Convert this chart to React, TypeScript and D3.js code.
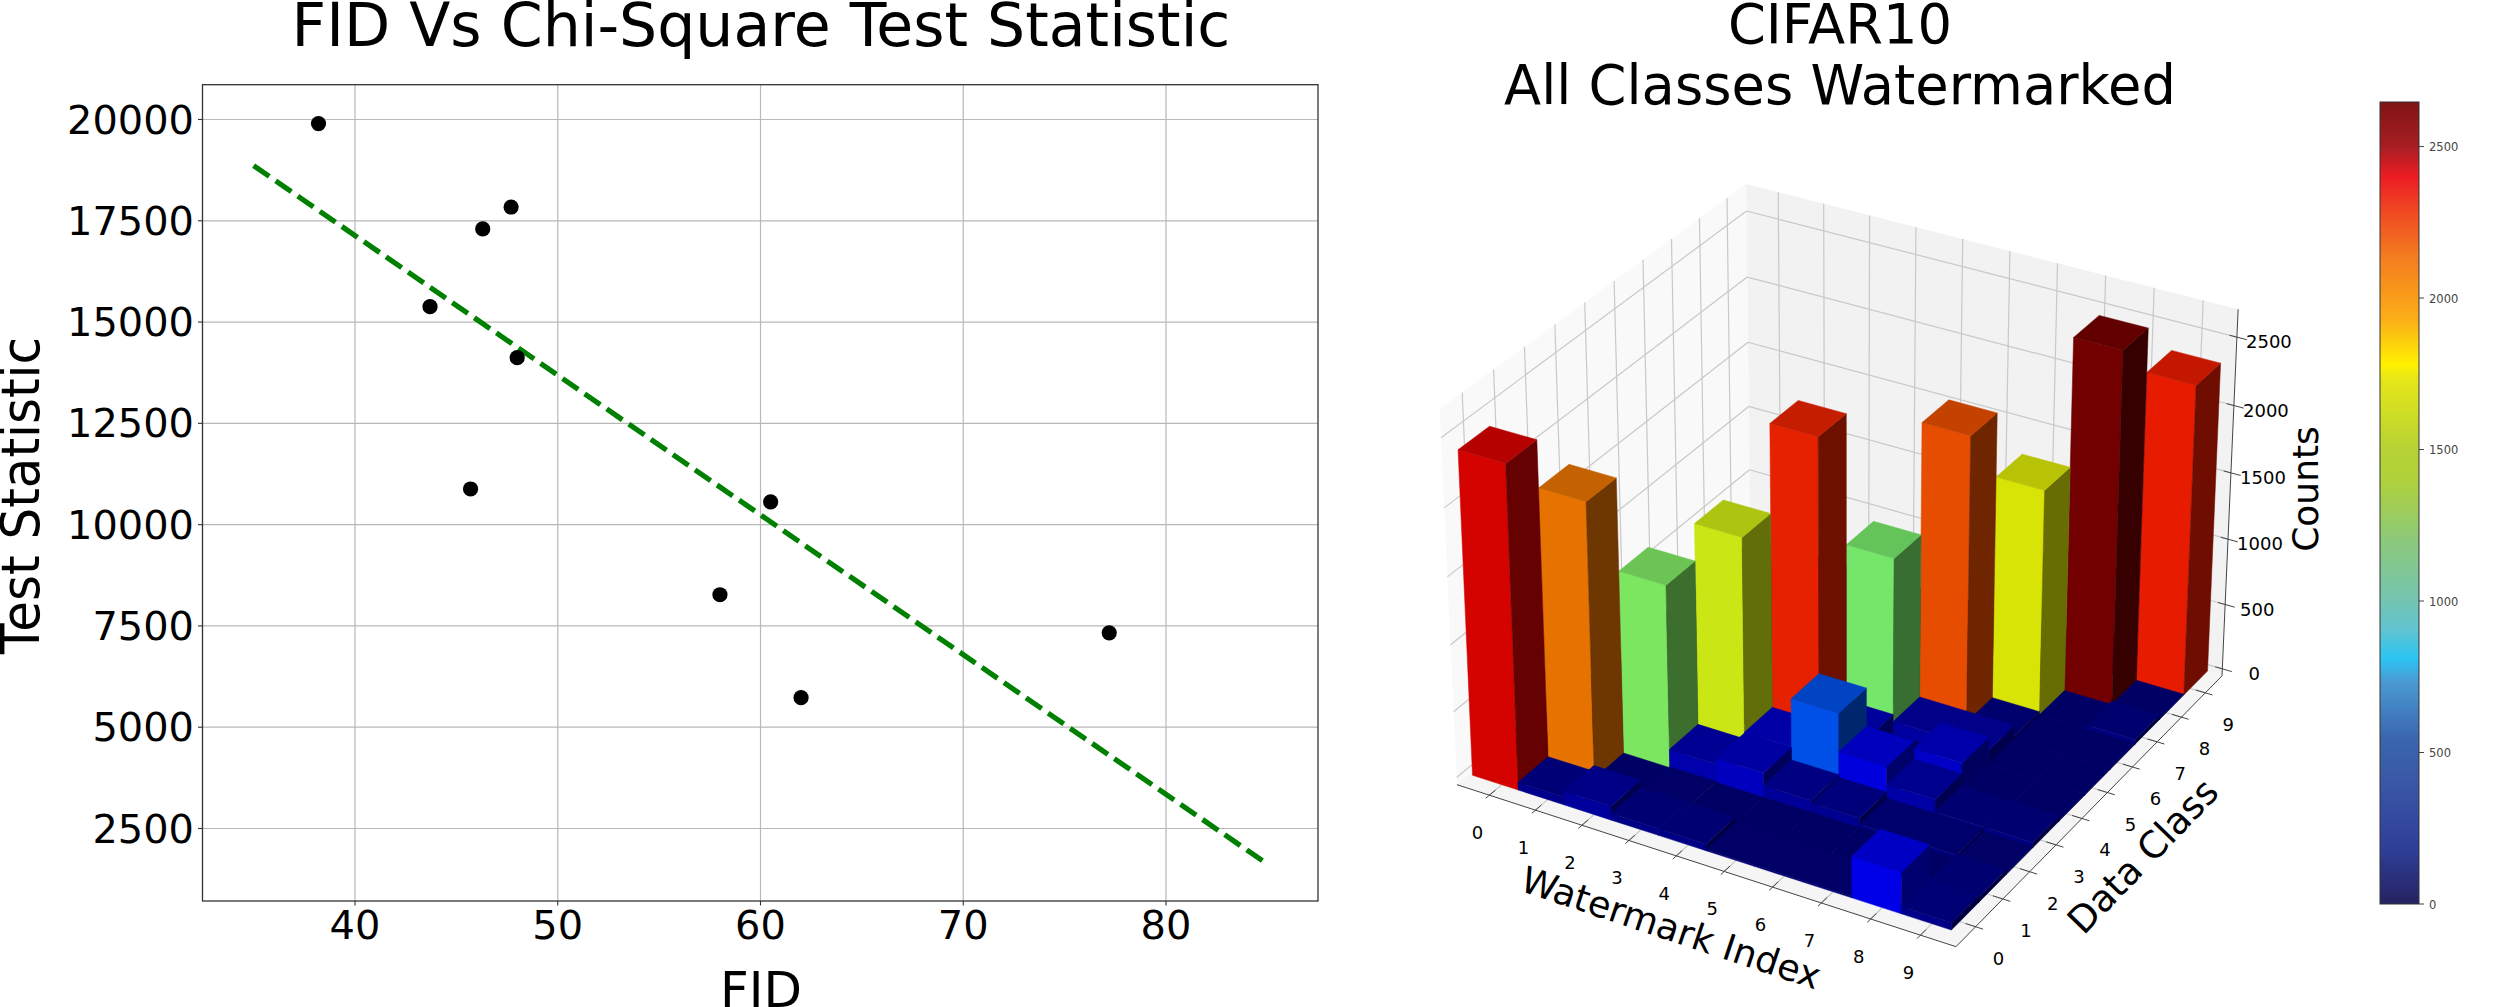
import React from "react";
import * as d3 from "d3";

const FONT = "'DejaVu Sans', sans-serif";

// ---- scatter data
const fid = [38.2, 43.7, 45.7, 46.3, 47.7, 48.0, 58.0, 60.5, 62.0, 77.2];
const testStat = [19900, 15380, 10880, 17300, 17840, 14120, 8270, 10560, 5730, 7330];
const fitX = [35, 85];
const fitY = [18860, 1620];
const xTicks = [40, 50, 60, 70, 80];
const yTicks = [2500, 5000, 7500, 10000, 12500, 15000, 17500, 20000];

// ---- bar data: counts per watermark index (column) for each data class (row)
const class0 = [2400, 60, 105, 50, 50, 10, 10, 10, 310, 55];
const class1 = [8, 2055, 6, 12, 6, 6, 6, 6, 6, 40];
const class2 = [8, 6, 1375, 145, 190, 95, 75, 30, 30, 8];
const class3 = [6, 6, 40, 1650, 195, 560, 270, 133, 40, 40];
const class4 = [6, 6, 6, 6, 2305, 170, 20, 215, 6, 6];
const class5 = [6, 6, 6, 6, 20, 1345, 115, 115, 6, 6];
const class6 = [6, 6, 6, 6, 6, 6, 2170, 30, 6, 6];
const class7 = [6, 6, 6, 6, 6, 6, 6, 1700, 6, 35];
const class8 = [6, 6, 6, 6, 6, 6, 6, 6, 2647, 6];
const class9 = [6, 6, 6, 6, 6, 6, 6, 6, 40, 2325];
const matrix = [class0, class1, class2, class3, class4, class5, class6, class7, class8, class9];
const gridIdx = [0, 1, 2, 3, 4, 5, 6, 7, 8, 9];
const zTicks = [0, 500, 1000, 1500, 2000, 2500];
const cbTicks = [0, 500, 1000, 1500, 2000, 2500];
const cbMax = 2647;

const cbStopVals = [0, 184, 368, 551, 735, 810, 908, 1010, 1203, 1402, 1500, 1730, 1780, 1930, 2140, 2310, 2400, 2500, 2647];
const cbStopCols = ["#262262", "#2e3f98", "#3953a4", "#3a67ae", "#4a9ad4", "#2bc4f3", "#62c4d0", "#74c5ae", "#8cc97a", "#b0d13a", "#b5d334", "#e6e619", "#fff200", "#fbae17", "#f47b20", "#ef4023", "#ed1c24", "#a81e22", "#7f1416"];

// ---- 3D projection (elev 30, azim -60, box 4:4:3)
const xlim = [-0.708, 9.708];
const ylim = [-0.708, 9.708];
const zlim = [-55, 2702];
const elev = (30 * Math.PI) / 180;
const azim = (-60 * Math.PI) / 180;
const box = [1.143, 1.143, 0.857];
const center = box.map((b) => b / 2);
const eye = [
  center[0] + 10 * Math.cos(elev) * Math.cos(azim),
  center[1] + 10 * Math.cos(elev) * Math.sin(azim),
  center[2] + 10 * Math.sin(elev),
];
const n = [0, 1, 2].map((i) => (eye[i] - center[i]) / 10);
const cross = (a: number[], b: number[]) => [a[1] * b[2] - a[2] * b[1], a[2] * b[0] - a[0] * b[2], a[0] * b[1] - a[1] * b[0]];
const norm = (a: number[]) => { const l = Math.hypot(a[0], a[1], a[2]); return a.map((v) => v / l); };
const u = norm(cross([0, 0, 1], n));
const v = norm(cross(n, u));
const dot = (a: number[], b: number[]) => a[0] * b[0] + a[1] * b[1] + a[2] * b[2];
const wx = d3.scaleLinear().domain(xlim).range([0, box[0]]);
const wy = d3.scaleLinear().domain(ylim).range([0, box[1]]);
const wz = d3.scaleLinear().domain(zlim).range([0, box[2]]);
function raw(x: number, y: number, z: number): [number, number] {
  const d = [wx(x) - eye[0], wy(y) - eye[1], wz(z) - eye[2]];
  const w = -dot(n, d);
  return [dot(u, d) / w, dot(v, d) / w];
}
const sx = d3.scaleLinear().domain([raw(xlim[0], ylim[0], zlim[0])[0], raw(xlim[1], ylim[1], zlim[0])[0]]).range([1457, 2222]);
const sy = d3.scaleLinear().domain([raw(xlim[1], ylim[0], zlim[0])[1], raw(xlim[0], ylim[1], zlim[1])[1]]).range([946.7, 184]);
function P(x: number, y: number, z: number): [number, number] {
  const r = raw(x, y, z);
  return [sx(r[0]), sy(r[1])];
}
const poly = (pts: [number, number, number][]) => d3.line()(pts.map((p) => P(p[0], p[1], p[2])))! + "Z";

const jr = d3.scaleLinear().domain([0, 0.35, 0.66, 0.89, 1]).range([0, 0, 1, 1, 0.5]).clamp(true);
const jg = d3.scaleLinear().domain([0, 0.125, 0.375, 0.64, 0.91, 1]).range([0, 0, 1, 1, 0, 0]).clamp(true);
const jb = d3.scaleLinear().domain([0, 0.11, 0.34, 0.65, 1]).range([0.5, 1, 1, 0, 0]).clamp(true);
function jet(val: number, f: number) {
  const t = val / cbMax;
  return d3.rgb(jr(t) * 255 * f, jg(t) * 255 * f, jb(t) * 255 * f).formatRgb();
}
const FRONT = 0.9, TOP = 0.77, SIDE = 0.43;

// text helper: sq stretches horizontally like the resized source image
function T({ x, y, s, size, anchor = "middle", rot = 0, sq = 1, fill = "#000" }: any) {
  return (
    <text transform={`translate(${x},${y}) scale(${sq},1) rotate(${rot})`} fontFamily={FONT} fontSize={size} textAnchor={anchor} fill={fill}>
      {s}
    </text>
  );
}

export default function App() {
  const L = 202.5, R = 1318, Tp = 84.7, B = 901;
  const x = d3.scaleLinear().domain([40, 80]).range([355, 1166]);
  const y = d3.scaleLinear().domain([2500, 20000]).range([828.5, 119.5]);

  const bars: { i: number; j: number; val: number }[] = [];
  gridIdx.forEach((j) => gridIdx.forEach((i) => bars.push({ i, j, val: matrix[j][i] })));
  bars.sort((a, b) => a.i - a.j - (b.i - b.j) || b.j - a.j);

  const [x0, x1] = xlim, [y0, y1] = ylim, [z0, z1] = zlim;
  const gridCol = "#c8c8c8";
  const seg = (a: [number, number, number], b: [number, number, number], stroke: string, w: number, key: string) => {
    const p = P(a[0], a[1], a[2]), q = P(b[0], b[1], b[2]);
    return <line key={key} x1={p[0]} y1={p[1]} x2={q[0]} y2={q[1]} stroke={stroke} strokeWidth={w} />;
  };

  const cbY = d3.scaleLinear().domain([0, cbMax]).range([904, 102]);

  return (
    <svg width={2500} height={1007} style={{ position: "absolute", left: 0, top: 0, display: "block", background: "#fff" }}>
      {/* left panel */}
      <T x={761} y={46} s="FID Vs Chi-Square Test Statistic" size={61} sq={0.985} />
      {xTicks.map((t) => <line key={"gx" + t} x1={x(t)} x2={x(t)} y1={Tp} y2={B} stroke="#b8b8b8" strokeWidth={1.2} />)}
      {yTicks.map((t) => <line key={"gy" + t} x1={L} x2={R} y1={y(t)} y2={y(t)} stroke="#b8b8b8" strokeWidth={1.2} />)}
      {xTicks.map((t) => <line key={"tx" + t} x1={x(t)} x2={x(t)} y1={B} y2={B + 4.5} stroke="#333" strokeWidth={1.1} />)}
      {yTicks.map((t) => <line key={"ty" + t} x1={L - 4.5} x2={L} y1={y(t)} y2={y(t)} stroke="#333" strokeWidth={1.1} />)}
      <rect x={L} y={Tp} width={R - L} height={B - Tp} fill="none" stroke="#333" strokeWidth={1.3} />
      <path d={d3.line()(fitX.map((fx, i) => [x(fx), y(fitY[i])] as [number, number]))!} fill="none" stroke="#008000" strokeWidth={5.2} strokeDasharray="19,7.8" />
      {fid.map((f, i) => <circle key={"p" + i} cx={x(f)} cy={y(testStat[i])} r={7.6} fill="#000" />)}
      {xTicks.map((t) => <T key={"xl" + t} x={x(t)} y={939} s={String(t)} size={39.5} sq={1.01} />)}
      {yTicks.map((t) => <T key={"yl" + t} x={194} y={y(t) + 14} s={String(t)} size={39.5} sq={1.01} anchor="end" />)}
      <T x={761} y={1007} s="FID" size={50} />
      <T x={39} y={495.5} s="Test Statistic" size={50} sq={1.07} rot={-90} />

      {/* right panel */}
      <T x={1840} y={43} s="CIFAR10" size={56} sq={0.97} />
      <T x={1840} y={104} s="All Classes Watermarked" size={56} sq={0.97} />

      <path d={poly([[x0, y0, z0], [x0, y1, z0], [x0, y1, z1], [x0, y0, z1]])} fill="#f9f9f9" />
      <path d={poly([[x0, y1, z0], [x1, y1, z0], [x1, y1, z1], [x0, y1, z1]])} fill="#f2f2f2" />
      <path d={poly([[x0, y0, z0], [x1, y0, z0], [x1, y1, z0], [x0, y1, z0]])} fill="#f5f5f5" />
      {gridIdx.map((t) => seg([t, y1, z0], [t, y1, z1], gridCol, 1.2, "g1" + t))}
      {gridIdx.map((t) => seg([x0, t, z0], [x0, t, z1], gridCol, 1.2, "g2" + t))}
      {gridIdx.map((t) => seg([t, y0, z0], [t, y1, z0], gridCol, 1.2, "g3" + t))}
      {gridIdx.map((t) => seg([x0, t, z0], [x1, t, z0], gridCol, 1.2, "g4" + t))}
      {zTicks.map((t) => seg([x0, y0, t], [x0, y1, t], gridCol, 1.2, "g5" + t))}
      {zTicks.map((t) => seg([x0, y1, t], [x1, y1, t], gridCol, 1.2, "g6" + t))}
      {seg([x0, y0, z0], [x1, y0, z0], "#444", 1, "a1")}
      {seg([x1, y0, z0], [x1, y1, z0], "#444", 1, "a2")}
      {seg([x1, y1, z0], [x1, y1, z1], "#444", 1, "a3")}
      {gridIdx.map((t) => seg([t, y0 - 0.12, z0], [t, y0 + 0.2, z0], "#444", 1, "t1" + t))}
      {gridIdx.map((t) => seg([x1 - 0.2, t, z0], [x1 + 0.15, t, z0], "#444", 1, "t2" + t))}
      {zTicks.map((t) => seg([x1 - 0.15, y1, t], [x1 + 0.2, y1, t], "#444", 1, "t3" + t))}

      {bars.map((b) => {
        const ax = b.i - 0.5, bx = b.i + 0.5, ay = b.j - 0.5, by = b.j + 0.5, h = b.val;
        const c1 = jet(h, FRONT), c2 = jet(h, SIDE), c3 = jet(h, TOP);
        return (
          <g key={`b${b.i}-${b.j}`} strokeWidth={0.5}>
            <path d={poly([[ax, ay, 0], [bx, ay, 0], [bx, ay, h], [ax, ay, h]])} fill={c1} stroke={c1} />
            <path d={poly([[bx, ay, 0], [bx, by, 0], [bx, by, h], [bx, ay, h]])} fill={c2} stroke={c2} />
            <path d={poly([[ax, ay, h], [bx, ay, h], [bx, by, h], [ax, by, h]])} fill={c3} stroke={c3} />
          </g>
        );
      })}

      {gridIdx.map((t) => { const p = P(t, y0, z0); return <T key={"xt" + t} x={p[0] - 12} y={p[1] + 44} s={String(t)} size={18} />; })}
      {gridIdx.map((t) => { const p = P(x1, t, z0); return <T key={"yt" + t} x={p[0] + 23} y={p[1] + 38} s={String(t)} size={18} />; })}
      {zTicks.map((t) => { const p = P(x1, y1, t); return <T key={"zt" + t} x={p[0] + 32} y={p[1] + 11} s={String(t)} size={18} />; })}
      <T x={1667} y={940} s="Watermark Index" size={36.5} rot={18.5} />
      <T x={2152} y={865} s="Data Class" size={37} rot={-46} />
      <T x={2318} y={489} s="Counts" size={36} rot={-90} />

      {/* colorbar */}
      <defs>
        <linearGradient id="cb" x1="0" x2="0" y1="1" y2="0">
          {cbStopVals.map((s, i) => <stop key={i} offset={s / cbMax} stopColor={cbStopCols[i]} />)}
        </linearGradient>
      </defs>
      <rect x={2380} y={102} width={39} height={802} fill="url(#cb)" stroke="#333" strokeWidth={1} />
      {cbTicks.map((t) => <line key={"cbt" + t} x1={2419} x2={2424} y1={cbY(t)} y2={cbY(t)} stroke="#444" strokeWidth={1} />)}
      {cbTicks.map((t) => <T key={"cbl" + t} x={2429} y={cbY(t) + 4.5} s={String(t)} size={11.5} anchor="start" fill="#444" />)}
    </svg>
  );
}
